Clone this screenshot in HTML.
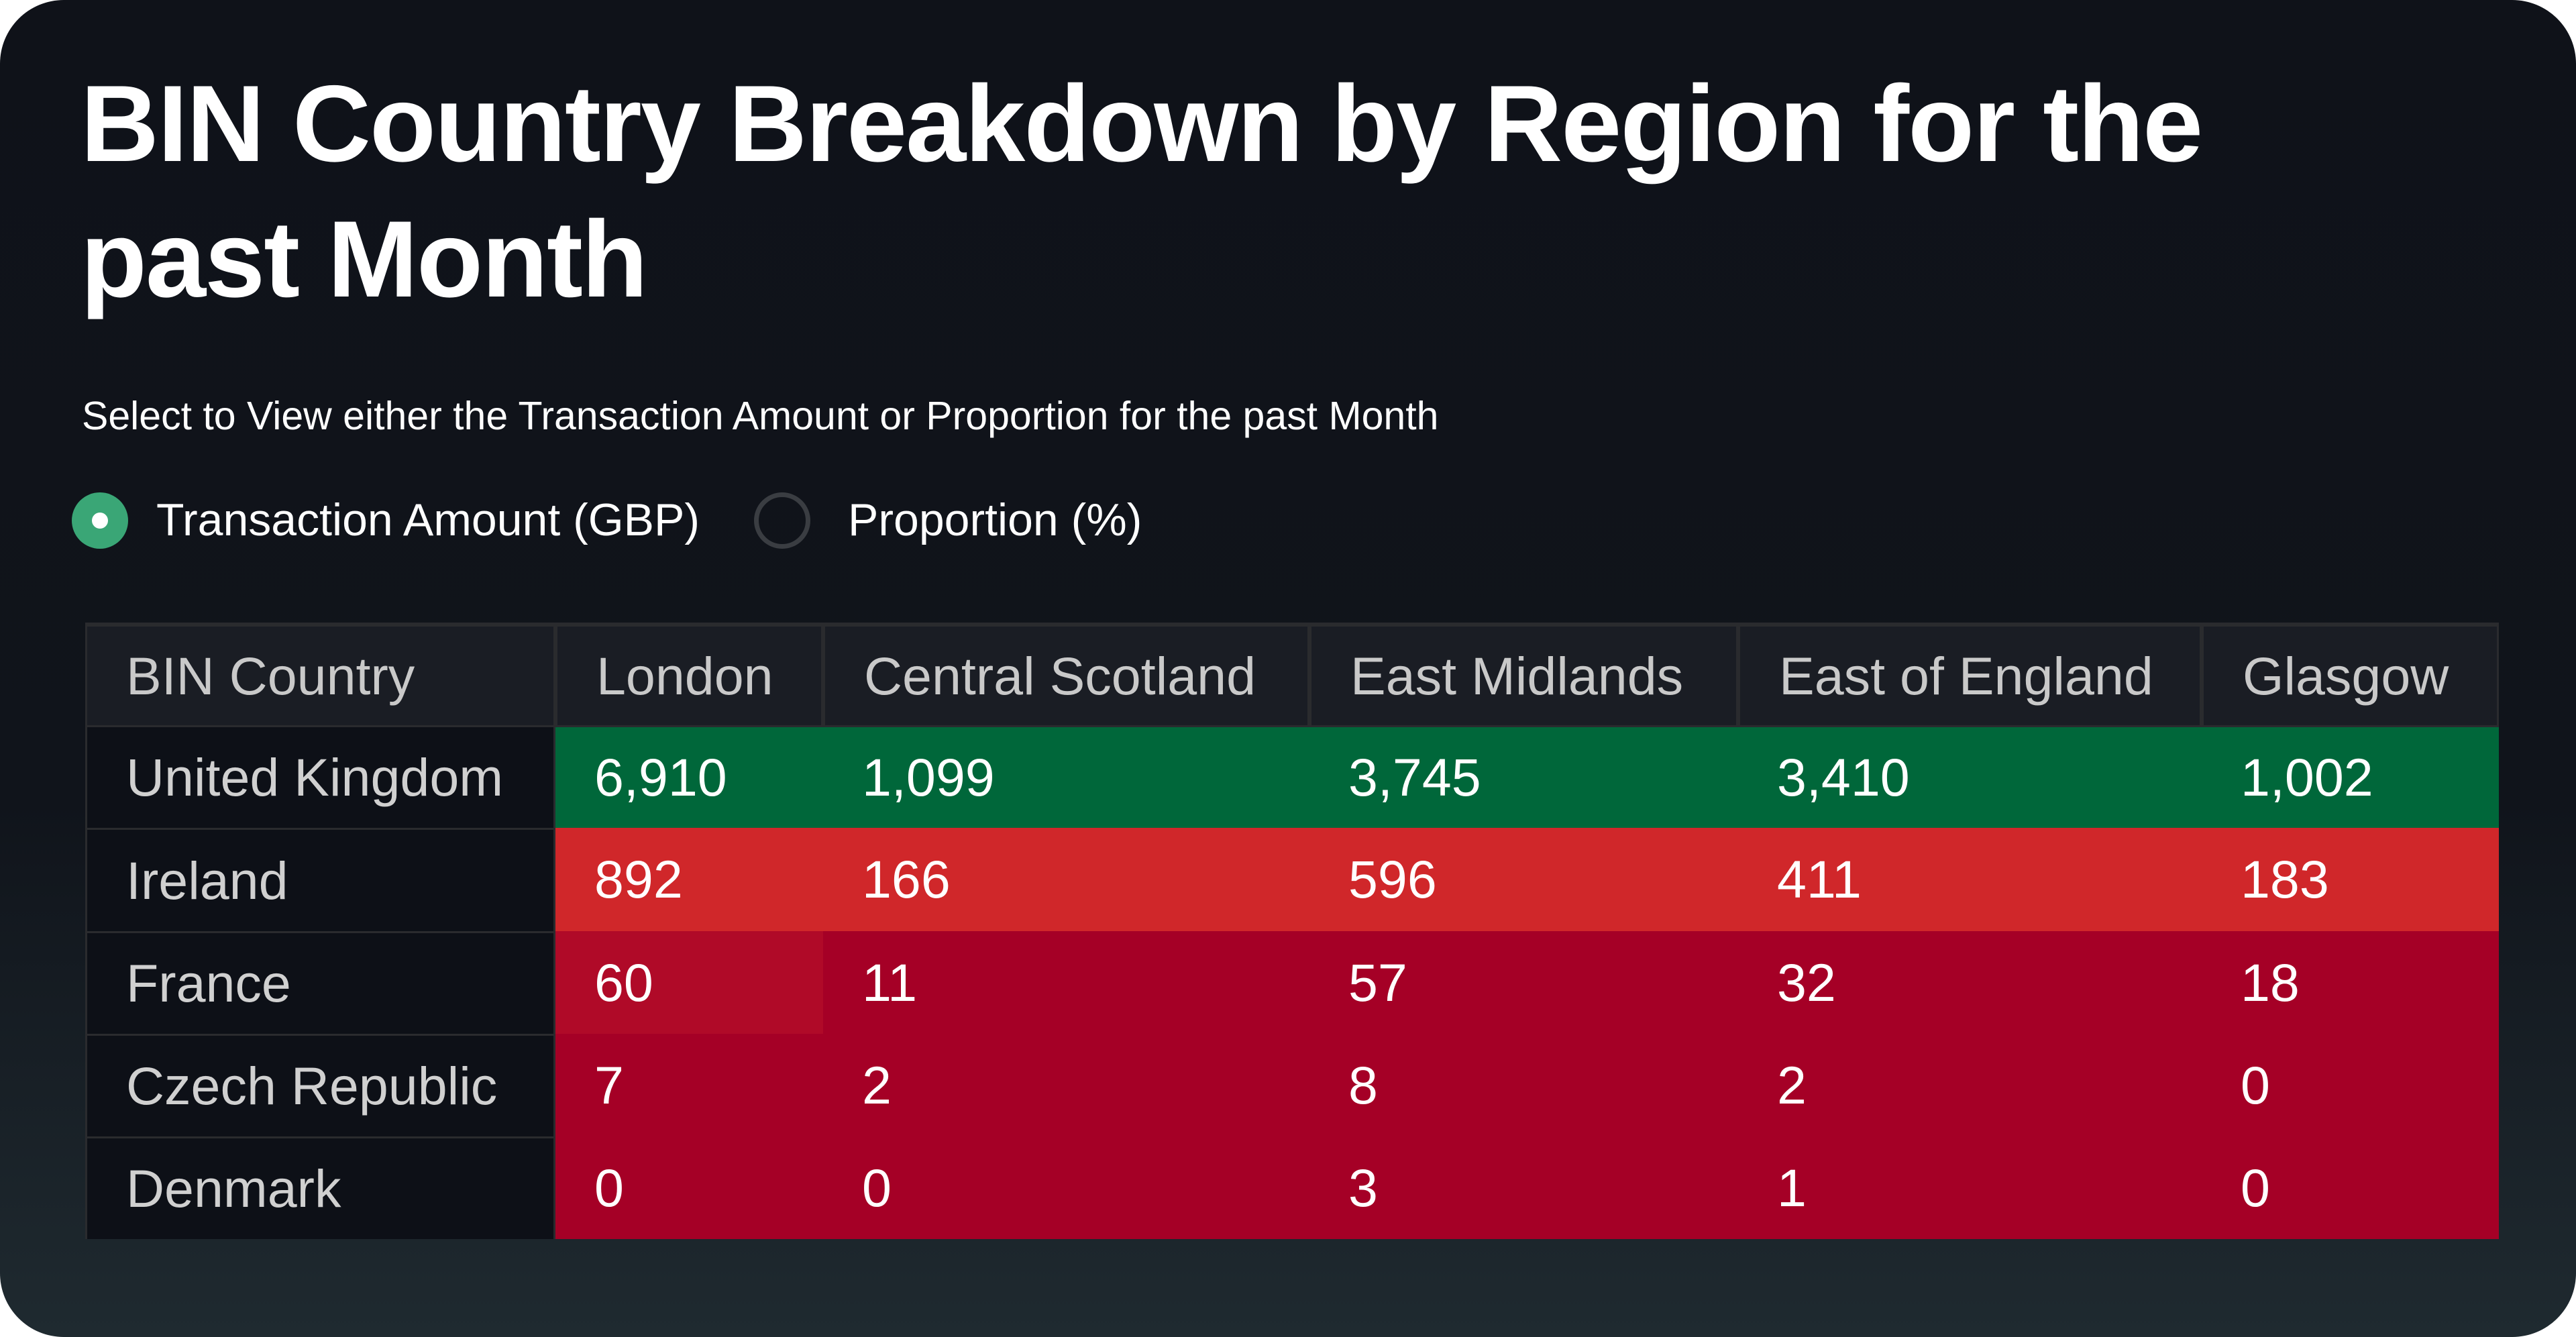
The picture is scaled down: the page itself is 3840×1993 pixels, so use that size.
<!DOCTYPE html>
<html><head><meta charset="utf-8">
<style>
html,body{margin:0;padding:0;background:#fff;}
body{width:3840px;height:1993px;position:relative;overflow:hidden;font-family:"Liberation Sans",sans-serif;}
#card{position:absolute;left:0;top:0;width:3840px;height:1993px;border-radius:95px;background:linear-gradient(180deg,#0f1219 0%,#10141b 60%,#1f2a30 100%);overflow:hidden;}
.title{position:absolute;left:120px;color:#fff;font-weight:bold;font-size:162px;white-space:nowrap;letter-spacing:-2px;}
#subtitle{position:absolute;left:122px;top:586px;color:#fff;font-size:59px;white-space:nowrap;}
.radio{position:absolute;width:84px;height:84px;border-radius:50%;box-sizing:border-box;}
.rlabel{position:absolute;top:736px;color:#fff;font-size:68px;white-space:nowrap;}
#table{position:absolute;left:127px;top:928px;width:3598px;height:919px;background:#2a2b2e;}
.cell{position:absolute;box-sizing:border-box;font-size:79px;white-space:nowrap;display:flex;align-items:center;padding-left:58px;}
</style></head><body>
<div id="card">
<div class="title" style="top:92px">BIN Country Breakdown by Region for the</div>
<div class="title" style="top:294px">past Month</div>
<div id="subtitle">Select to View either the Transaction Amount or Proportion for the past Month</div>
<div class="radio" style="left:107px;top:734px;background:#3aa676;"><div style="position:absolute;left:30px;top:30px;width:24px;height:24px;border-radius:50%;background:#fff;"></div></div>
<div class="rlabel" style="left:233px">Transaction Amount (GBP)</div>
<div class="radio" style="left:1124px;top:734px;border:7px solid #3a3d42;"></div>
<div class="rlabel" style="left:1264px">Proportion (%)</div>
<div id="table"></div>
</div>
<script>
const headers = ["BIN Country","London","Central Scotland","East Midlands","East of England","Glasgow"];
const countries = ["United Kingdom","Ireland","France","Czech Republic","Denmark"];
const london = [6910,892,60,7,0];
const centralScotland = [1099,166,11,2,0];
const eastMidlands = [3745,596,57,8,3];
const eastOfEngland = [3410,411,32,2,1];
const glasgow = [1002,183,18,0,0];
const series = [london,centralScotland,eastMidlands,eastOfEngland,glasgow];

const colX = [0,701,1100,1825,2464,3155,3598];
const tblH = 919;
function rowY(i){ return Math.round(i*tblH/6); }
function colorFor(v){
  if (v>=1000) return "#00673a";
  if (v>=150) return "#d0272a";
  if (v>=58) return "#b00a28";
  return "#a50026";
}
const t = document.getElementById('table');
function mk(x,y,w,h,bg,color,txt){
  const d=document.createElement('div');
  d.className='cell';
  d.style.left=x+'px';d.style.top=y+'px';d.style.width=w+'px';d.style.height=h+'px';
  d.style.background=bg;d.style.color=color;d.textContent=txt;
  t.appendChild(d);return d;
}
const g=6;
headers.forEach((h,c)=>{
  const d=mk(colX[c]+g/2,g,colX[c+1]-colX[c]-g,rowY(1)-g,"#1a1d24","#c9c9c9",h);
  
  
});
countries.forEach((cn,r)=>{
  const y=rowY(r+1)+g/2, h=rowY(r+2)-rowY(r+1)-g/2;
  const d=mk(g/2,y,colX[1]-g,h,"#0d1017","#d0d0d0",cn);
  
  
  series.forEach((s,c)=>{
    const x0=colX[c+1], x1=colX[c+2];
    const e=mk(x0,rowY(r+1)+(r===0?g/2:0),x1-x0,rowY(r+2)-rowY(r+1)-(r===0?g/2:0),colorFor(s[r]),"#fff",s[r].toLocaleString('en-US'));
    
    
  });
});
</script>
</body></html>
